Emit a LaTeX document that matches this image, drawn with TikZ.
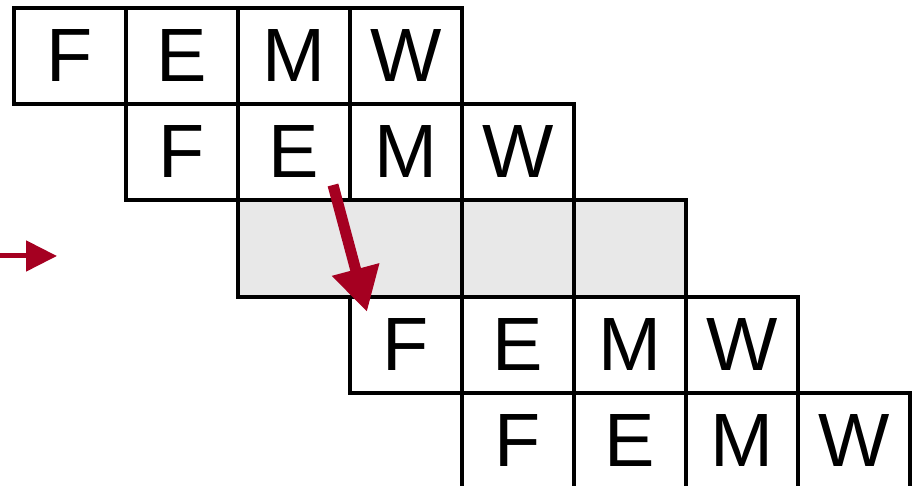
\documentclass[tikz,border=0pt]{standalone}
\usepackage{fontspec}
\setmainfont{Liberation Sans}
\usepackage{xcolor}
\usepackage{tikz}
\usetikzlibrary{arrows.meta,positioning,calc}
\definecolor{fwdRed}{HTML}{A50021}
\definecolor{bubbleGray}{HTML}{E8E8E8}

\begin{document}
\begin{tikzpicture}[
    stage/.style={rectangle,draw=black,line width=0.04cm,
                  minimum width=1.12cm,minimum height=0.9625cm,
                  inner sep=0pt,font=\fontsize{21.5}{24}\selectfont},
    bubble/.style={stage,fill=bubbleGray},
    fwd/.style={fwdRed,line width=0.11cm,-{Triangle[length=0.44cm,width=0.46cm]}}
  ]
  \useasboundingbox (0,0) rectangle (9.14,-4.86);
  %% Instruction 1
  \node[stage] (f1) at (0.70,-0.56) {F};
  \node[stage] (e1) at (1.82,-0.56) {E};
  \node[stage] (m1) at (2.94,-0.56) {M};
  \node[stage] (w1) at (4.06,-0.56) {W};
  %% Instruction 2
  \node[stage] (f2) at (1.82,-1.52) {F};
  \node[stage] (e2) at (2.94,-1.52) {E};
  \node[stage] (m2) at (4.06,-1.52) {M};
  \node[stage] (w2) at (5.18,-1.52) {W};
  %% Stall (bubble)
  \node[bubble,minimum width=2.24cm] (b1) at (3.50,-2.485) {};
  \node[bubble] (b2) at (5.18,-2.485) {};
  \node[bubble] (b3) at (6.30,-2.485) {};
  %% Instruction 3
  \node[stage] (f3) at (4.06,-3.45) {F};
  \node[stage] (e3) at (5.18,-3.45) {E};
  \node[stage] (m3) at (6.30,-3.45) {M};
  \node[stage] (w3) at (7.42,-3.45) {W};
  %% Instruction 4
  \node[stage] (f4) at (5.18,-4.41) {F};
  \node[stage] (e4) at (6.30,-4.41) {E};
  \node[stage] (m4) at (7.42,-4.41) {M};
  \node[stage] (w4) at (8.54,-4.41) {W};
  %% Forwarding arrow (E of instr. 2 into F of instr. 3)
  \coordinate (fwdFrom) at (3.33,-1.85);
  \coordinate (fwdTo) at (3.67,-3.12);
  \draw[fwd] (fwdFrom) -- (fwdTo);
  %% Marker on the left
  \coordinate (markFrom) at (0,-2.56);
  \coordinate (markTo) at (0.57,-2.56);
  \draw[fwdRed,line width=0.05cm,-{Triangle[length=0.31cm,width=0.30cm]}] (markFrom) -- (markTo);
\end{tikzpicture}
\end{document}
